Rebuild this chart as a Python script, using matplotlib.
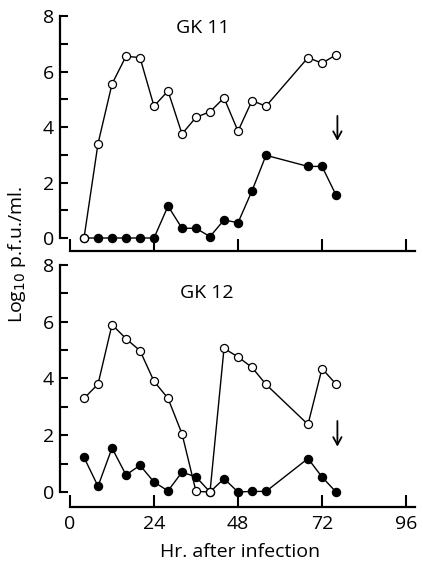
import matplotlib
matplotlib.use("Agg")
from matplotlib import pyplot as plt

plt.rcParams['font.family'] = ['Open Sans', 'DejaVu Sans']

hours = [4, 8, 12, 16, 20, 24, 28, 32, 36, 40, 44, 48, 52, 56, 68, 72, 76]

# GK 11
gk11_open = [0, 3.4, 5.55, 6.55, 6.5, 4.75, 5.3, 3.75, 4.35, 4.55, 5.05, 3.85, 4.95, 4.75, 6.5, 6.3, 6.6]
gk11_filled = [0, 0, 0, 0, 0, 0, 1.15, 0.35, 0.35, 0.05, 0.65, 0.55, 1.7, 2.98, 2.58, 2.58, 1.55]

# GK 12
gk12_open = [3.3, 3.8, 5.9, 5.4, 4.98, 3.9, 3.3, 2.05, 0.02, 0, 5.06, 4.76, 4.39, 3.79, 2.38, 4.35, 3.8]
gk12_filled = [1.22, 0.2, 1.55, 0.6, 0.94, 0.35, 0.04, 0.7, 0.53, 0, 0.47, 0, 0.02, 0.02, 1.18, 0.53, 0]

panels = [
    ("GK 11", gk11_open, gk11_filled, (76.4, 4.5, 3.4), (38, 7.55)),
    ("GK 12", gk12_open, gk12_filled, (76.4, 2.6, 1.5), (39, 7.0)),
]

fig = plt.figure(figsize=(4.23, 5.65), dpi=100)
ax_top = fig.add_axes([0.1407, 0.5542, 0.8522, 0.4273])
ax_bot = fig.add_axes([0.1407, 0.1016, 0.8522, 0.4395])

for ax, (name, opn, fil, arr, lab), ylo, xpos in [
        (ax_top, panels[0], -0.5, -0.47),
        (ax_bot, panels[1], -0.55, -0.53)]:
    ax.plot(hours, fil, color='black', lw=1.0, marker='o', ms=5.8,
            mfc='black', mec='black', zorder=2)
    ax.plot(hours, opn, color='black', lw=1.0, marker='o', ms=5.8,
            mfc='white', mec='black', mew=0.9, zorder=3)
    ax.annotate('', xy=(arr[0], arr[2]), xytext=(arr[0], arr[1]),
                arrowprops=dict(arrowstyle='->,head_length=0.55,head_width=0.3',
                                color='black', lw=1.3))
    ax.text(lab[0], lab[1], name, ha='center', va='center', fontsize=14)

    ax.set_xlim(-3, 100)
    ax.set_ylim(ylo, 8.2)
    ax.spines['top'].set_visible(False)
    ax.spines['right'].set_visible(False)
    ax.spines['left'].set_bounds(0, 8)
    ax.spines['bottom'].set_bounds(0, 98.5)
    ax.spines['bottom'].set_position(('data', xpos))
    ax.spines['left'].set_linewidth(1.6)
    ax.spines['bottom'].set_linewidth(1.6)

    ax.set_xticks([0, 24, 48, 72, 96])
    ax.set_yticks([0, 2, 4, 6, 8])
    ax.set_yticks([1, 3, 5, 7], minor=True)
    ax.tick_params(axis='x', direction='in', length=9, width=1.5, pad=6, labelsize=14)
    ax.tick_params(axis='y', which='both', direction='in', length=6, width=1.5, pad=4, labelsize=14)

ax_top.tick_params(axis='x', labelbottom=False)
ax_bot.set_xlabel("Hr. after infection", fontsize=14, labelpad=7)

fig.text(0.04, 0.549, "Log$_{10}$ p.f.u./ml.", rotation=90, ha='center', va='center', fontsize=14)

fig.savefig("out.png", dpi=100)
